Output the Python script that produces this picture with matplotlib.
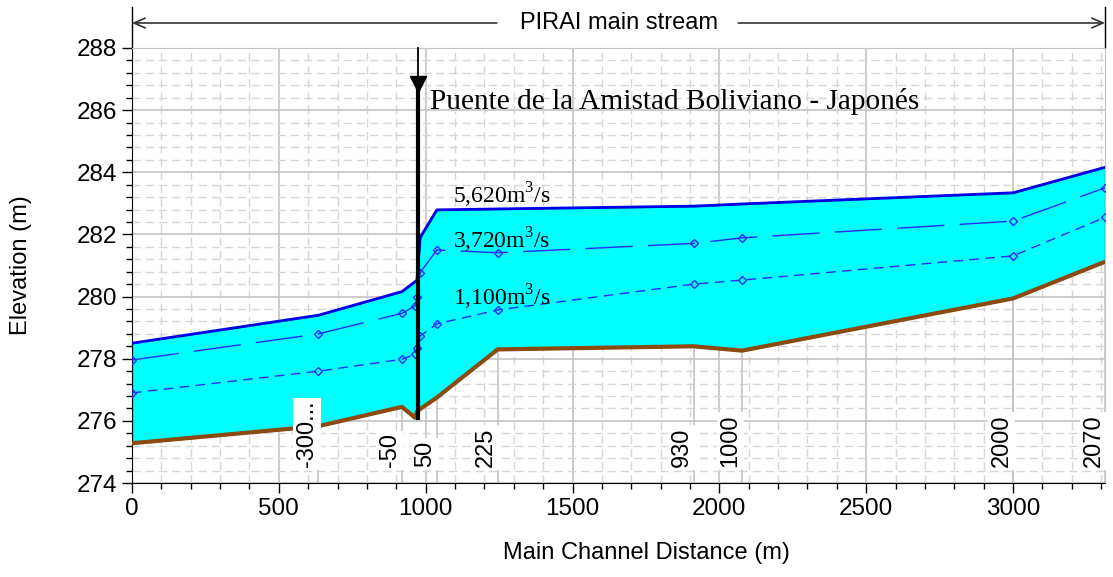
import matplotlib
matplotlib.use("Agg")
import matplotlib.pyplot as plt
from matplotlib.ticker import MultipleLocator

plt.rcParams['font.family'] = ['Liberation Sans', 'DejaVu Sans']
plt.rcParams['mathtext.fontset'] = 'custom'
plt.rcParams['mathtext.rm'] = 'Liberation Serif'

# main channel distance of each cross section (m)
dist = [0, 635, 919, 964, 970, 981, 1038, 1245, 1912, 2077, 3000, 3313]
# channel bed
bed = [275.28, 275.83, 276.45, 276.10, 276.30, 276.38, 276.75, 278.30, 278.40, 278.26, 279.94, 281.12]
# water surface profiles
ws_5620 = [278.50, 279.40, 280.16, 280.48, 280.52, 281.90, 282.79, 282.82, 282.91, 282.98, 283.34, 284.16]
ws_3720 = [277.96, 278.80, 279.46, 279.70, 280.00, 280.77, 281.50, 281.41, 281.71, 281.89, 282.43, 283.50]
ws_1100 = [276.90, 277.60, 277.98, 278.14, 278.35, 278.73, 279.12, 279.57, 280.40, 280.53, 281.31, 282.55]

# river station labels
sta_x = [635, 919, 1038, 1245, 1912, 2077, 3000, 3313]
sta_lbl = ['-300...', '-50', '50', '225', '930', '1000', '2000', '2070']

bridge_x = 973
bridge_bed = 276.1
bridge_name = 'Puente de la Amistad Boliviano - Japonés'

flow_lbl = [r'5,620m$^{\mathrm{3}}$/s', r'3,720m$^{\mathrm{3}}$/s', r'1,100m$^{\mathrm{3}}$/s']
flow_y = [283.0, 281.55, 279.7]

fig = plt.figure(figsize=(11.13, 5.77), dpi=100)
ax = fig.add_axes([132/1113, 94/577, 973/1113, 435/577])
ax.set_xlim(0, 3313)
ax.set_ylim(274, 288)

ax.xaxis.set_major_locator(MultipleLocator(500))
ax.xaxis.set_minor_locator(MultipleLocator(100))
ax.yaxis.set_major_locator(MultipleLocator(2))
ax.yaxis.set_minor_locator(MultipleLocator(0.4))
ax.set_axisbelow(True)
ax.grid(which='major', color='#c4c4c4', lw=1.2, ls='-')
ax.grid(which='minor', color='#d6d6d6', lw=1.0, ls=(0, (6, 3.5)))
ax.tick_params(which='major', direction='out', length=7.5, width=1, labelsize=17.5, pad=3)
ax.tick_params(which='minor', direction='out', length=4, width=1)
for s in ['top', 'right']:
    ax.spines[s].set_color('#c4c4c4')

# station lines below the bed
for x, lb in zip(sta_x, sta_lbl):
    i = dist.index(x)
    ax.plot([x, x], [274, bed[i]], color='#c4c4c4', lw=1.2, zorder=1.5)
    ax.text(x - 2, 274.5, lb, rotation=90, ha='right', va='bottom', fontsize=17,
            bbox=dict(fc='white', ec='none', pad=2), zorder=6)

ax.fill_between(dist, bed, ws_5620, facecolor='#00ffff', edgecolor='#108080', lw=1, zorder=2)
ax.plot(dist, ws_5620, color='#0000e6', lw=2, zorder=3)
ax.plot(dist, ws_3720, color='#2a2aff', lw=1, ls=(0, (34, 11)), marker='D', ms=4.5,
        mfc='none', mec='#2a2aff', zorder=3)
ax.plot(dist, ws_1100, color='#2a2aff', lw=1, ls=(0, (7, 4.5)), marker='D', ms=4.5,
        mfc='none', mec='#2a2aff', zorder=3)
ax.plot(dist, bed, color='#8b4a10', lw=3, zorder=4)

# bridge marker
ax.plot([bridge_x, bridge_x], [288, 287.0], color='k', lw=1.3, zorder=5, clip_on=False)
ax.plot(bridge_x, 286.85, marker='v', ms=11, color='k', zorder=5)
ax.plot([bridge_x, bridge_x], [286.7, bridge_bed], color='k', lw=3, zorder=5)
ax.text(1013, 286.05, bridge_name, family='Liberation Serif', fontsize=21.2, va='baseline', zorder=6)

for lb, y in zip(flow_lbl, flow_y):
    ax.text(1094, y, lb, family='Liberation Serif', fontsize=17, va='baseline', zorder=6)

# reach arrow on top
ya = 1.0575
ax.annotate('', xy=(0, ya), xytext=(0.375, ya), xycoords='axes fraction',
            arrowprops=dict(arrowstyle='->,head_length=0.8,head_width=0.35', color='#333333',
                            lw=1.2, shrinkA=0, shrinkB=0))
ax.annotate('', xy=(1, ya), xytext=(0.623, ya), xycoords='axes fraction',
            arrowprops=dict(arrowstyle='->,head_length=0.8,head_width=0.35', color='#333333',
                            lw=1.2, shrinkA=0, shrinkB=0))
ax.plot([0, 0], [1.0, 1.094], transform=ax.transAxes, color='k', lw=1, clip_on=False)
ax.plot([1, 1], [1.0, 1.094], transform=ax.transAxes, color='k', lw=1, clip_on=False)
ax.text(0.5, ya, 'PIRAI main stream', transform=ax.transAxes, ha='center', va='center', fontsize=17)

ax.set_xlabel('Main Channel Distance (m)', fontsize=17)
ax.set_ylabel('Elevation (m)', fontsize=17)
ax.xaxis.set_label_coords(0.529, -0.135)
ax.yaxis.set_label_coords(-0.103, 0.5)

fig.savefig('out.png', dpi=100)
